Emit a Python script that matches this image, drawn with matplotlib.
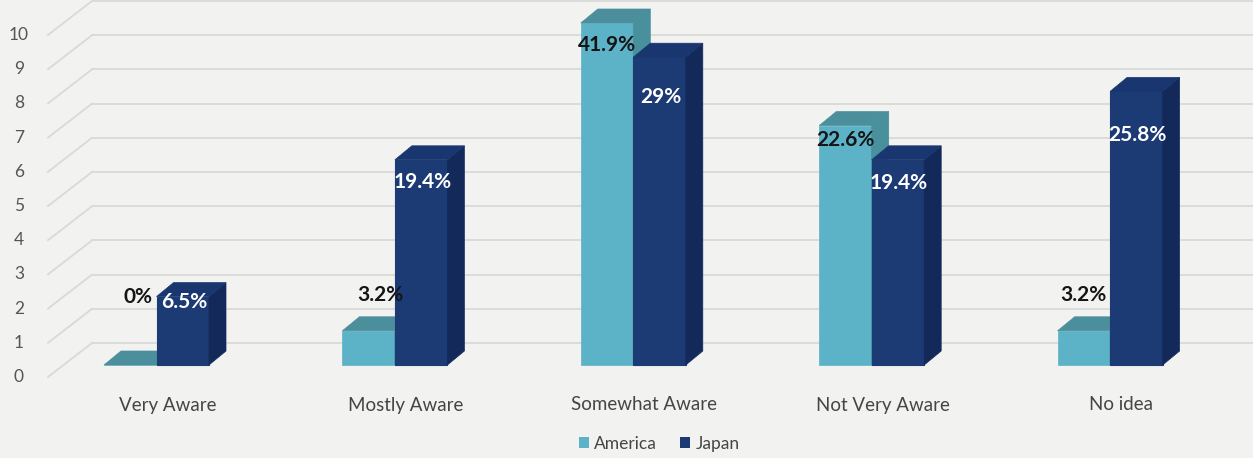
import numpy as np
import matplotlib.pyplot as plt
from matplotlib.patches import Polygon, Patch

# --- data ---
categories = ['Very Aware', 'Mostly Aware', 'Somewhat Aware', 'Not Very Aware', 'No idea']
america = [0, 1, 10, 7, 1]
japan = [2, 6, 9, 6, 8]
america_txt = ['0%', '3.2%', '41.9%', '22.6%', '3.2%']
japan_txt = ['6.5%', '19.4%', '29%', '19.4%', '25.8%']
yticks = list(range(0, 11))

# where the value labels sit (value units), as placed in the original
america_txt_y = [1.99, 2.05, 9.36, 6.58, 2.05]
japan_txt_y = [1.84, 5.35, 7.84, 5.32, 6.73]
america_txt_dx = [8, 12, 0, 0, 0]  # px

BG = '#f2f2f0'
GRID = '#d9d9d7'
AM_FRONT, AM_SIDE, AM_TOP = '#5cb2c6', '#47909c', '#4a8f9b'
JP_FRONT, JP_SIDE, JP_TOP = '#1c3a73', '#13295a', '#1a3670'
FONT = 'Lato'

W, H = 1253, 458
px_x = 238.4   # pixels per category
px_y = 34.2    # pixels per unit
x0px, y0px = 156.5, 365

fig = plt.figure(figsize=(W / 100, H / 100), dpi=100)
fig.patch.set_facecolor(BG)
ax = fig.add_axes([0, 0, 1, 1])
ax.set_facecolor(BG)
xmin, xmax = -x0px / px_x, (W - x0px) / px_x
ax.set_xlim(xmin, xmax)
ax.set_ylim(-(H - y0px) / px_y, y0px / px_y)
ax.axis('off')

bw = 52.5 / px_x
ddx, ddy = 17 / px_x, 14 / px_y

# floor / wall grid (pseudo 3d)
fx, bx = (48 - x0px) / px_x, (92 - x0px) / px_x
fy, by = -12 / px_y, 22 / px_y
for v in yticks:
    ax.plot([fx, bx], [v + fy, v + by], color=GRID, lw=1.3, zorder=0)
    ax.plot([bx, xmax], [v + by, v + by], color=GRID, lw=1.3, zorder=0)
    ax.text(fx - 29 / px_x, v + fy, str(v), ha='center', va='center',
            fontsize=12.5, color='#555555', family=FONT)


def box(xl, v, side, top, z):
    xr = xl + bw
    ax.add_patch(Polygon([(xr, 0), (xr + ddx, ddy), (xr + ddx, v + ddy), (xr, v)],
                         closed=True, facecolor=side, edgecolor=side, lw=0.5, zorder=z))
    ax.add_patch(Polygon([(xl, v), (xr, v), (xr + ddx, v + ddy), (xl + ddx, v + ddy)],
                         closed=True, facecolor=top, edgecolor=top, lw=0.5, zorder=z))


x = np.arange(len(categories))
ax.bar(x - bw / 2, america, width=bw, color=AM_FRONT, edgecolor=AM_FRONT, lw=0.5, zorder=2)
for i, v in enumerate(america):
    box(x[i] - bw, v, AM_SIDE, AM_TOP, 2)
ax.bar(x + bw / 2, japan, width=bw, color=JP_FRONT, edgecolor=JP_FRONT, lw=0.8, zorder=3)
for i, v in enumerate(japan):
    box(x[i], v, JP_SIDE, JP_TOP, 3)

# value labels
for i in range(len(categories)):
    ax.text(x[i] - bw / 2 + america_txt_dx[i] / px_x, america_txt_y[i], america_txt[i],
            ha='center', va='center', fontsize=15, fontweight='bold',
            color='#151515', family=FONT, zorder=5)
    ax.text(x[i] + bw / 2 + 1 / px_x, japan_txt_y[i], japan_txt[i],
            ha='center', va='center', fontsize=15, fontweight='bold',
            color='white', family=FONT, zorder=5)

# category labels
for i, c in enumerate(categories):
    ax.text(x[i] + 11 / px_x, -40 / px_y, c, ha='center', va='center',
            fontsize=13.5, color='#454545', family=FONT)

handles = [Patch(facecolor=AM_FRONT, label='America'),
           Patch(facecolor=JP_FRONT, label='Japan')]
fig.legend(handles=handles, loc='center', bbox_to_anchor=(659 / W, 1 - 444 / H),
           ncol=2, frameon=False, handlelength=0.6, handleheight=0.6,
           handletextpad=0.3, columnspacing=1.3,
           prop={'family': FONT, 'size': 12.5}, labelcolor='#454545')

fig.savefig('out.png', dpi=100, facecolor=BG)
